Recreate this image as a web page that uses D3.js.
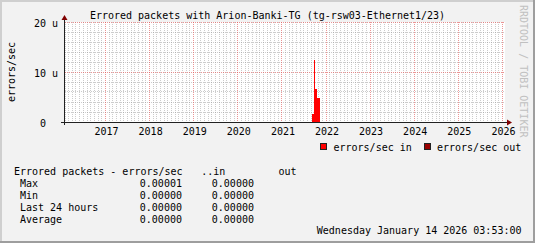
<!DOCTYPE html>
<html>
<head>
<meta charset="utf-8">
<script src="https://cdn.jsdelivr.net/npm/d3@7"></script>
<style>
body { margin: 0; background: #f2f2f2; }
text { font-family: "DejaVu Sans Mono", monospace; font-size: 10px; white-space: pre; }
</style>
</head>
<body>
<div id="chart"></div>
<script>
// data
var timeStart = "2016-01-31";
var timeEnd = "2026-01-14";
var binTimes = ["2016-01-31", "2021-09-05", "2021-09-24", "2021-10-03", "2021-10-19", "2021-11-13", "2026-01-14"];
var errorsIn = [0, 1.6e-6, 12.4e-6, 6.7e-6, 4.9e-6, 0];
var errorsOut = [0, 0, 0, 0, 0, 0];
var yTicks = [0, 10e-6, 20e-6];
var yTickLabels = [" 0  ", "10 u", "20 u"];
var statNames = ["Max", "Min", "Last 24 hours", "Average"];
var statIn = [0.00001, 0, 0, 0];
var statOut = [0, 0, 0, 0];

var W = 535, H = 243;
var parse = d3.utcParse("%Y-%m-%d");

var svg = d3.select("#chart")
	.append("svg")
	.attr("width", W)
	.attr("height", H);

// background + shading border
svg.append("rect").attr("width", W).attr("height", H).attr("fill", "#f2f2f2");
svg.append("path").attr("d", "M0,1H" + (W - 1) + "M1,0V" + (H - 1)).attr("stroke", "#cfcfcf").attr("stroke-width", 2);
svg.append("path").attr("d", "M0," + (H - 1) + "H" + W + "M" + (W - 1) + ",0V" + H).attr("stroke", "#9e9e9e").attr("stroke-width", 2);

var x = d3.scaleUtc()
	.domain([parse(timeStart), parse(timeEnd)])
	.range([65, 504]);
var y = d3.scaleLinear()
	.domain([0, 20e-6])
	.range([122, 22]);

// canvas
svg.append("rect")
	.attr("x", 65).attr("y", 22)
	.attr("width", 440).attr("height", 101)
	.attr("fill", "#fff");

function px(v) { return Math.floor(v) + 0.5; }

// minor grid: months and every 2u
var months = d3.utcMonth.range(x.domain()[0], x.domain()[1]).filter(function(d) { return d.getUTCMonth() != 0; });
var years = d3.utcYear.range(x.domain()[0], x.domain()[1]);
var minorY = d3.range(1, 10).map(function(i) { return i * 2e-6; }).filter(function(v) { return Math.abs(v - 10e-6) > 1e-9; });

var grid = svg.append("g").attr("stroke-dasharray", "1,1").attr("stroke-width", 1);
grid.selectAll(".vmin").data(months).enter().append("line")
	.attr("x1", function(d) { return px(x(d)); })
	.attr("x2", function(d) { return px(x(d)); })
	.attr("y1", 22).attr("y2", 122)
	.attr("stroke", "#8f8f8f").attr("stroke-opacity", 0.45);
grid.selectAll(".hmin").data(minorY).enter().append("line")
	.attr("x1", 65).attr("x2", 505)
	.attr("y1", function(d) { return px(y(d)); })
	.attr("y2", function(d) { return px(y(d)); })
	.attr("stroke", "#8f8f8f").attr("stroke-opacity", 0.45);
// major grid: years and 10u
grid.selectAll(".vmaj").data(years).enter().append("line")
	.attr("x1", function(d) { return px(x(d)); })
	.attr("x2", function(d) { return px(x(d)); })
	.attr("y1", 22).attr("y2", 122)
	.attr("stroke", "#de4f4f").attr("stroke-opacity", 0.6);
grid.selectAll(".hmaj").data(yTicks.slice(1)).enter().append("line")
	.attr("x1", 65).attr("x2", 505)
	.attr("y1", function(d) { return px(y(d)); })
	.attr("y2", function(d) { return px(y(d)); })
	.attr("stroke", "#de4f4f").attr("stroke-opacity", 0.6);

// bars
function drawBars(vals, color) {
	svg.append("g").selectAll("rect")
		.data(vals)
		.enter().append("rect")
		.attr("shape-rendering", "crispEdges")
		.attr("x", function(d, i) { return x(parse(binTimes[i])); })
		.attr("width", function(d, i) { return x(parse(binTimes[i + 1])) - x(parse(binTimes[i])); })
		.attr("y", function(d) { return y(d); })
		.attr("height", function(d) { return y(0) - y(d); })
		.attr("fill", color);
}
drawBars(errorsIn, "#ff0000");
drawBars(errorsOut, "#990000");

// axes
svg.append("path").attr("d", "M61,122.5H508").attr("stroke", "#212121");
svg.append("path").attr("d", "M64.5,125V19").attr("stroke", "#212121");
svg.append("path").attr("d", "M507,119.5L512,122.5L507,125.5Z").attr("fill", "#800000");
svg.append("path").attr("d", "M61.5,20L64.5,15L67.5,20Z").attr("fill", "#800000");

// tick labels
svg.selectAll(".xl").data(years).enter().append("text")
	.attr("x", function(d) { return x(d) + 1; })
	.attr("y", 134.5)
	.attr("text-anchor", "middle")
	.text(function(d) { return d.getUTCFullYear(); });
svg.selectAll(".yl").data(yTicks).enter().append("text")
	.attr("x", 34)
	.attr("y", function(d) { return y(d) + 4.5; })
	.text(function(d, i) { return yTickLabels[i]; });

// titles
svg.append("text").attr("x", 267.5).attr("y", 19).attr("text-anchor", "middle")
	.text("Errored packets with Arion-Banki-TG (tg-rsw03-Ethernet1/23)");
svg.append("text").attr("transform", "translate(15,72) rotate(-90)").attr("text-anchor", "middle")
	.text("errors/sec");
svg.append("text").attr("transform", "translate(519.5,5) rotate(90)").attr("fill", "#c0c0c0")
	.text("RRDTOOL / TOBI OETIKER");

// legend
svg.append("rect").attr("x", 320.5).attr("y", 143.5).attr("width", 6).attr("height", 6)
	.attr("fill", "#ff0000").attr("stroke", "#222");
svg.append("text").attr("x", 333.5).attr("y", 150.5).text("errors/sec in");
svg.append("rect").attr("x", 424.5).attr("y", 143.5).attr("width", 6).attr("height", 6)
	.attr("fill", "#990000").attr("stroke", "#222");
svg.append("text").attr("x", 437).attr("y", 150.5).text("errors/sec out");

// stats table
var fmt = d3.format(".5f");
svg.append("text").attr("x", 14).attr("y", 175).text("Errored packets - errors/sec");
svg.append("text").attr("x", 201.2).attr("y", 175).text("..in");
svg.append("text").attr("x", 278.5).attr("y", 175).text("out");
var rowY = [186.5, 198.5, 210.5, 222.5];
var rows = svg.selectAll(".row").data(statNames).enter().append("g");
rows.append("text").attr("x", 20).attr("y", function(d, i) { return rowY[i]; }).text(function(d) { return d; });
rows.append("text").attr("x", 139.8).attr("y", function(d, i) { return rowY[i]; }).text(function(d, i) { return fmt(statIn[i]); });
rows.append("text").attr("x", 211.8).attr("y", function(d, i) { return rowY[i]; }).text(function(d, i) { return fmt(statOut[i]); });

svg.append("text").attr("x", 521.5).attr("y", 233.5).attr("text-anchor", "end")
	.text("Wednesday January 14 2026 03:53:00");
</script>
</body>
</html>
